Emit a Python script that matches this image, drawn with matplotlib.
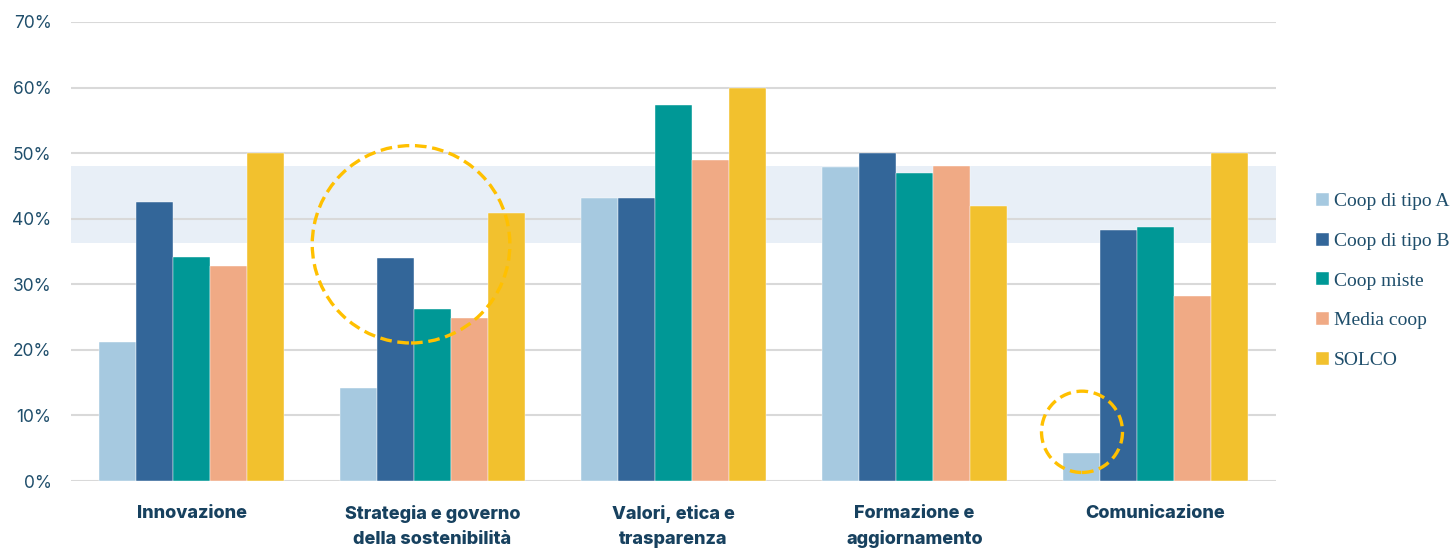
import matplotlib
matplotlib.use("Agg")
import matplotlib.pyplot as plt
import numpy as np
from matplotlib.patches import Ellipse

CATEGORIES = [
    "Innovazione",
    "Strategia e governo\ndella sostenibilità",
    "Valori, etica e\ntrasparenza",
    "Formazione e\naggiornamento",
    "Comunicazione",
]
SERIES = ["Coop di tipo A", "Coop di tipo B", "Coop miste", "Media coop", "SOLCO"]
coop_a = [21.2, 14.2, 43.2, 47.9, 4.3]
coop_b = [42.6, 34.0, 43.2, 50.0, 38.3]
coop_miste = [34.1, 26.2, 57.4, 46.9, 38.7]
media_coop = [32.8, 24.9, 48.9, 48.1, 28.2]
solco = [50.0, 40.9, 60.0, 41.9, 50.0]
BAND = (36.3, 48.0)

COLORS = ["#A6C9E0", "#336699", "#009896", "#F0AA85", "#F2C12E"]
TEXT = "#1F4E6B"


def main():
    values = [coop_a, coop_b, coop_miste, media_coop, solco]
    fig = plt.figure(figsize=(14.56, 5.48), dpi=100)
    ax = fig.add_axes([71 / 1456, 67 / 548, 1205 / 1456, 459 / 548])

    x = np.arange(len(CATEGORIES))
    width = 0.154
    for i, (label, vals, color) in enumerate(zip(SERIES, values, COLORS)):
        ax.bar(x + (i - 2) * width, vals, width, color=color, label=label,
               zorder=3, edgecolor="white", linewidth=0.3)

    ax.axhspan(*BAND, color="#E8EFF7", zorder=0, linewidth=0)

    ax.set_xlim(-0.5, len(CATEGORIES) - 0.5)
    ax.set_ylim(0, 70)
    ax.set_yticks(range(0, 71, 10))
    ax.set_yticklabels([f"{v}%" for v in range(0, 71, 10)])
    ax.yaxis.grid(True, color="#D9D9D9", linewidth=1.5, zorder=1)
    ax.set_axisbelow(True)
    for s in ax.spines.values():
        s.set_visible(False)
    ax.tick_params(axis="y", length=0, pad=14, labelsize=12.5,
                   labelcolor=TEXT)
    ax.tick_params(axis="x", length=0, pad=17)
    ax.set_xticks(x)
    ax.set_xticklabels(CATEGORIES, fontsize=13, fontweight="heavy",
                       color="#17415F", linespacing=1.62)
    for t in ax.get_yticklabels():
        t.set_fontfamily("Inter")
    for t in ax.get_xticklabels():
        t.set_fontfamily("Inter")

    # dashed highlight circles
    circ_kw = dict(fill=False, edgecolor="#FFC000", linewidth=2.4,
                   linestyle=(0, (3.5, 1.7)), zorder=5, clip_on=False)
    ax.add_patch(Ellipse((0.911, 36.1), 0.82, 30.1, **circ_kw))
    ax.add_patch(Ellipse((3.695, 7.5), 0.336, 12.4, **circ_kw))

    ax.legend(loc="center left", bbox_to_anchor=(1316 / 1456, 1 - 281 / 548),
              bbox_transform=fig.transFigure, frameon=False,
              prop={"family": "Liberation Serif", "size": 14},
              labelcolor=TEXT, handlelength=0.65, handleheight=0.65,
              handletextpad=0.25, labelspacing=1.15, borderpad=0,
              borderaxespad=0)

    fig.savefig("out.png", dpi=100, facecolor="white")


if __name__ == "__main__":
    main()
